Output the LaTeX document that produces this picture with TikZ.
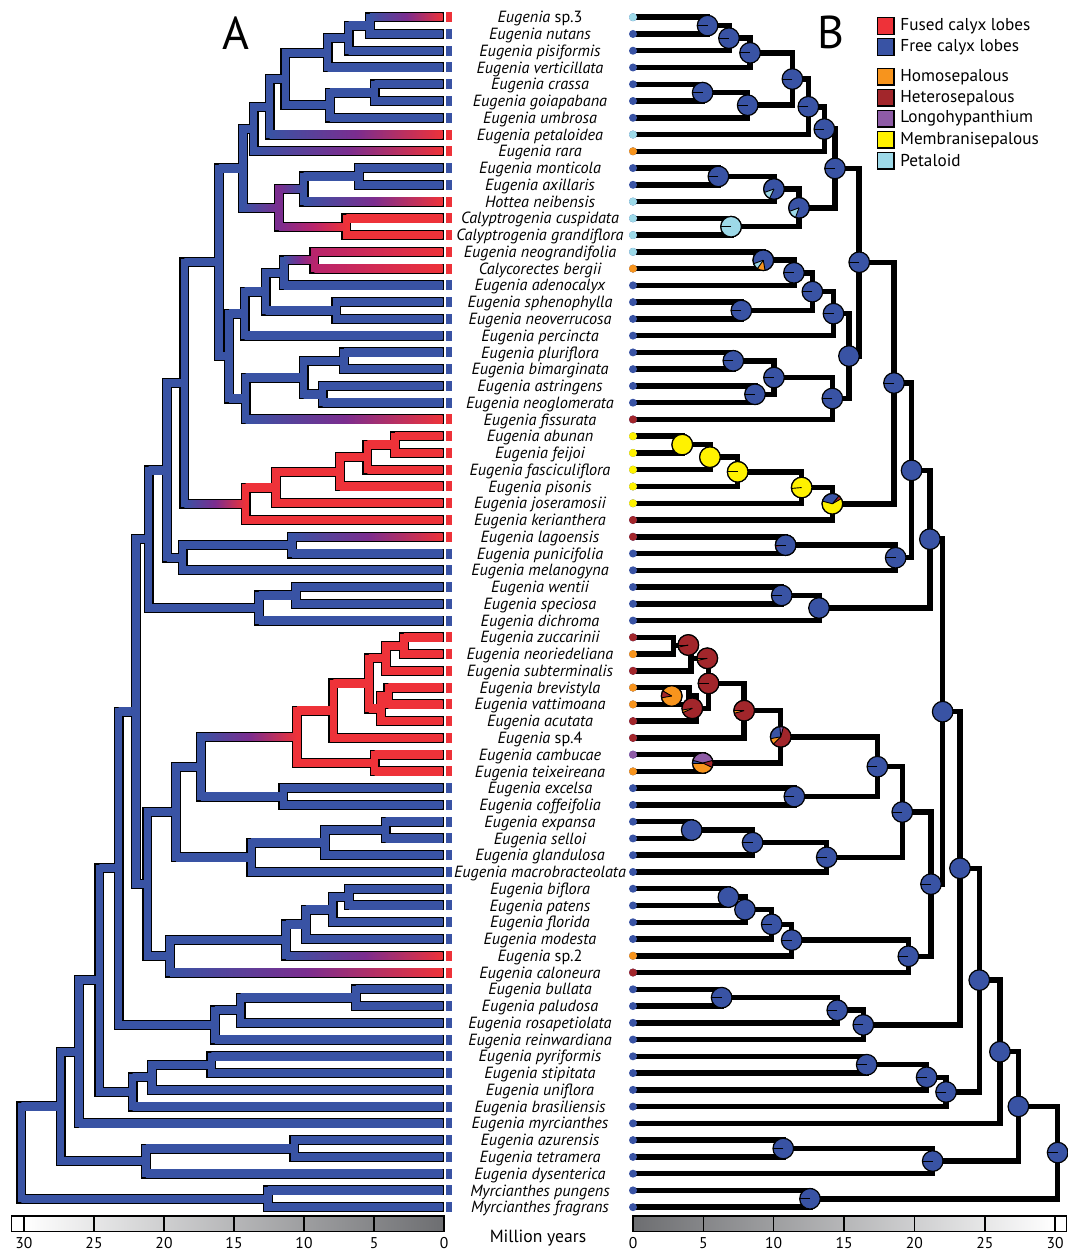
\documentclass[tikz,border=0pt]{standalone}
\usepackage{fontspec}
\setmainfont{PT Sans}
\usetikzlibrary{calc}
\definecolor{cb}{HTML}{3953A4}
\definecolor{cr}{HTML}{EE3239}
\definecolor{cpu}{HTML}{7B2D8F}
\definecolor{cm}{HTML}{B8246C}
\definecolor{co}{HTML}{F7941D}
\definecolor{cdr}{HTML}{A2262B}
\definecolor{cpl}{HTML}{8E5BA6}
\definecolor{cy}{HTML}{FFF200}
\definecolor{cpt}{HTML}{9DD9E8}
\definecolor{gax}{HTML}{6D6E71}
\newcommand\setY[2]{\expandafter\xdef\csname tzY:#1\endcsname{#2}}
\newcommand\getY[1]{\csname tzY:#1\endcsname}
\newcommand\setC[2]{\expandafter\xdef\csname tzC:#1\endcsname{#2}}
\newcommand\getC[1]{\csname tzC:#1\endcsname}
\newcommand\setL[2]{\expandafter\xdef\csname tzL:#1\endcsname{#2}}
\newcommand\getL[1]{\csname tzL:#1\endcsname}
\newcommand\mkmid[3]{\expandafter\xdef\csname tzM:#1#2\endcsname{#3}}
\mkmid{cb}{cr}{cpu}
\mkmid{cb}{cm}{cpu}
\mkmid{cm}{cr}{cm!50!cr}
\mkmid{cpu}{cr}{cm}
\mkmid{cpu}{cb}{cpu!50!cb}
\mkmid{cb}{cpu}{cpu!50!cb}
\def\pR{5.15pt}
\newcommand\hseg[2]{%
  \edef\pc{\getC{#1}}\edef\cc{\getC{#2}}%
  \ifcsname tzM:\pc\cc\endcsname\edef\mc{\csname tzM:\pc\cc\endcsname}\else\edef\mc{\pc}\fi
  \shade[left color=\pc,right color=\cc,middle color=\mc] ($(A#2 -| A#1)+(0,-3.7)$) rectangle ($(AE#2)+(0,3.7)$);}
\newcommand\pbase[2]{\fill[#2] (#1) circle[radius=\pR];}
\newcommand\pslice[4]{\fill[#4] (#1) -- ++(#2:\pR) arc[start angle=#2,end angle=#3,radius=\pR] -- cycle;}
\newcommand\pline[2]{\draw[pln] (#1) -- ++(#2:\pR);}
\newcommand\pring[1]{\draw[pout] (#1) circle[radius=\pR];}
\def\treedata{a/1/2/5.3,b/a/3/6.82,c/b/4/8.32,d/5/6/4.95,e/d/7/8.15,f/c/e/11.33,g/f/8/12.46,h/g/9/13.6,i/10/11/6.07,j/i/12/10.02,k/13/14/6.97,l/j/k/11.8,m/h/l/14.36,n/15/16/9.26,o/n/17/11.44,q/18/19/7.7,p/o/q/12.75,r/p/20/14.25,v/21/22/7.13,w/23/24/8.67,u/v/w/10.02,s/u/25/14.17,t/r/s/15.35,x/m/t/16.08,y1/26/27/3.5,y2/y1/28/5.47,y3/y2/29/7.44,y4/y3/30/11.99,y5/y4/31/14.17,z1/x/y5/18.55,z6/32/33/10.85,z2/z6/34/18.67,z3/z1/z2/19.8,z7/35/36/10.57,z4/z7/37/13.22,z5/z3/z4/21.1,r1/38/39/2.87,r2/r1/40/4.13,r3/41/42/3.98,r4/r3/43/4.49,r5/r2/r4/5.37,r6/r5/44/7.9,r7/45/46/4.96,r8/r6/r7/10.5,b1/47/48/11.47,b2/r8/b1/17.37,b3/49/50/4.17,b4/b3/51/8.5,b5/b4/52/13.77,b6/b2/b5/19.14,b7/53/54/6.78,b8/b7/55/7.96,b9/b8/56/9.86,b10/b9/57/11.28,b11/b10/58/19.57,b12/b6/b11/21.18,c1/z5/b12/22.01,d1/59/60/6.3,d2/d1/61/14.52,d3/d2/62/16.37,e1/63/64/16.61,e2/e1/65/20.87,e3/e2/66/22.25,c2/c1/d3/23.24,c3/c2/e3/24.61,c4/c3/67/26.08,f1/68/69/10.68,f2/f1/70/21.3,c5/c4/f2/27.39,g1/71/72/12.58,rt/c5/g1/30.18}
\def\labs{1/{Eugenia \textup{sp.3}},2/Eugenia nutans,3/Eugenia pisiformis,4/Eugenia verticillata,5/Eugenia crassa,6/Eugenia goiapabana,7/Eugenia umbrosa,8/Eugenia petaloidea,9/Eugenia rara,10/Eugenia monticola,11/Eugenia axillaris,12/Hottea neibensis,13/Calyptrogenia cuspidata,14/Calyptrogenia grandiflora,15/Eugenia neograndifolia,16/Calycorectes bergii,17/Eugenia adenocalyx,18/Eugenia sphenophylla,19/Eugenia neoverrucosa,20/Eugenia percincta,21/Eugenia pluriflora,22/Eugenia bimarginata,23/Eugenia astringens,24/Eugenia neoglomerata,25/Eugenia fissurata,26/Eugenia abunan,27/Eugenia feijoi,28/Eugenia fasciculiflora,29/Eugenia pisonis,30/Eugenia joseramosii,31/Eugenia kerianthera,32/Eugenia lagoensis,33/Eugenia punicifolia,34/Eugenia melanogyna,35/Eugenia wentii,36/Eugenia speciosa,37/Eugenia dichroma,38/Eugenia zuccarinii,39/Eugenia neoriedeliana,40/Eugenia subterminalis,41/Eugenia brevistyla,42/Eugenia vattimoana,43/Eugenia acutata,44/{Eugenia \textup{sp.4}},45/Eugenia cambucae,46/Eugenia teixeireana,47/Eugenia excelsa,48/Eugenia coffeifolia,49/Eugenia expansa,50/Eugenia selloi,51/Eugenia glandulosa,52/Eugenia macrobracteolata,53/Eugenia biflora,54/Eugenia patens,55/Eugenia florida,56/Eugenia modesta,57/{Eugenia \textup{sp.2}},58/Eugenia caloneura,59/Eugenia bullata,60/Eugenia paludosa,61/Eugenia rosapetiolata,62/Eugenia reinwardiana,63/Eugenia pyriformis,64/Eugenia stipitata,65/Eugenia uniflora,66/Eugenia brasiliensis,67/Eugenia myrcianthes,68/Eugenia azurensis,69/Eugenia tetramera,70/Eugenia dysenterica,71/Myrcianthes pungens,72/Myrcianthes fragrans}
\begin{document}
\begin{tikzpicture}[x=0.5pt,y=-0.5pt,
 ablk/.style={line width=5pt,line join=miter,black},
 acol/.style={line width=3.7pt,line cap=rect},
 bblk/.style={line width=2.75pt,line join=miter,black},
 pln/.style={line width=0.45pt,black},
 pout/.style={line width=0.6pt,black},
 lab/.style={font=\fontsize{8.1}{9}\selectfont\itshape,anchor=base,inner sep=0pt},
 leg/.style={font=\fontsize{8.6}{10}\selectfont,anchor=west,inner sep=0pt},
 legbox/.style={line width=0.6pt,draw=black},
 axl/.style={font=\fontsize{7.8}{9}\selectfont,anchor=center,inner sep=0pt},
 axln/.style={line width=0.7pt,black}]
\useasboundingbox (0,0) rectangle (1068,1250);
% ---------- data
\foreach \i in {1,...,72}{\setY{\i}{\fpeval{17.2+(\i-1)*16.76}}\setC{\i}{cb}}
\foreach \i in {1,8,9,12,13,14,15,16,25,26,27,28,29,30,31,32,38,39,40,41,42,43,44,45,46,57,58}{\setC{\i}{cr}}
\foreach \nn/\ka/\kb/\ag in \treedata{\setY{\nn}{\fpeval{(\getY{\ka}+\getY{\kb})/2}}\setC{\nn}{cb}\setL{\nn}{1}}
\foreach \nn in {k,y1,y2,y3,y4,y5,r1,r2,r3,r4,r5,r6,r7,r8}{\setC{\nn}{cr}}
\setC{l}{cpu}\setC{n}{cm}
\foreach \nn in {t,y1,y2,z3,z4,z5,c1,c2,c3,c4,c5,b3,b7,b8}{\setL{\nn}{0}}
% ---------- coordinates
\foreach \i in {1,...,72}{\edef\yy{\getY{\i}}
  \coordinate (A\i) at (444,\yy);
  \coordinate (AE\i) at (442.7,\yy);
  \coordinate (B\i) at (633,\yy);}
\foreach \nn/\ka/\kb/\ag in \treedata{\edef\yy{\getY{\nn}}
  \coordinate (A\nn) at ({444-14*\ag},\yy);
  \coordinate (AE\nn) at (A\nn);
  \coordinate (B\nn) at ({633+14.07*\ag},\yy);
  \coordinate (BP\nn) at (B\nn);}
\coordinate (BPr1) at (688.3,645);
\coordinate (BPr2) at (707.3,658.3);
\coordinate (BPr3) at (671.7,696);
\coordinate (BPr4) at (692.3,708.3);
% ---------- tree A
\foreach \nn/\ka/\kb/\ag in \treedata{\draw[ablk] (A\ka) -| (A\nn) |- (A\kb);}
\foreach \nn/\ka/\kb/\ag in \treedata{\edef\pc{\getC{\nn}}\draw[acol,color=\pc] (A\ka -| A\nn) -- (A\kb -| A\nn);}
\foreach \nn/\ka/\kb/\ag in \treedata{\hseg{\nn}{\ka}\hseg{\nn}{\kb}}
\foreach \i in {1,...,72}{\edef\cc{\getC{\i}}\edef\yy{\getY{\i}}\fill[color=\cc] (446,{\yy-5}) rectangle (452,{\yy+5});}
% ---------- labels
\foreach \i/\lb in \labs{\edef\yy{\getY{\i}}\node[lab] (L\i) at (540,{\yy+5.6}) {\lb};}
% ---------- tree B
\foreach \nn/\ka/\kb/\ag in \treedata{\draw[bblk] (B\ka) -| (B\nn) |- (B\kb);}
\foreach \i in {1,...,72}{\fill[cb] (B\i) circle[radius=2pt];}
\foreach \i/\col in {1/cpt,8/cpt,9/co,12/cpt,13/cpt,14/cpt,15/cpt,16/co,25/cdr,26/cy,27/cy,28/cy,29/cy,30/cy,31/cdr,32/cdr,38/cdr,39/co,40/cdr,41/co,42/co,43/cdr,44/cdr,45/cpl,46/co,57/co,58/cdr}{\fill[color=\col] (B\i) circle[radius=2pt];}
\foreach \nn/\ka/\kb/\ag in \treedata{\pbase{BP\nn}{cb}\ifnum\getL{\nn}=1 \pline{BP\nn}{180}\fi\pring{BP\nn}}
% special pies
\pbase{BPk}{cpt}\pline{BPk}{180}\pring{BPk}
\pbase{BPj}{cb}\pslice{BPj}{200}{245}{cpt}\pline{BPj}{200}\pline{BPj}{245}\pring{BPj}
\pbase{BPl}{cb}\pslice{BPl}{200}{250}{cpt}\pline{BPl}{200}\pline{BPl}{250}\pring{BPl}
\pbase{BPn}{cb}\pslice{BPn}{200}{235}{cpt}\pslice{BPn}{235}{280}{co}\pline{BPn}{200}\pline{BPn}{235}\pline{BPn}{280}\pring{BPn}
\pbase{BPy1}{cy}\pring{BPy1}
\pbase{BPy2}{cy}\pring{BPy2}
\pbase{BPy3}{cy}\pline{BPy3}{180}\pring{BPy3}
\pbase{BPy4}{cy}\pline{BPy4}{185}\pring{BPy4}
\pbase{BPy5}{cy}\pslice{BPy5}{50}{165}{cb}\pslice{BPy5}{30}{50}{cdr}\pline{BPy5}{165}\pline{BPy5}{30}\pline{BPy5}{50}\pring{BPy5}
\pbase{BPz6}{cb}\pslice{BPz6}{180}{190}{cdr}\pline{BPz6}{180}\pring{BPz6}
\pbase{BPr1}{cdr}\pslice{BPr1}{180}{192}{co}\pline{BPr1}{180}\pline{BPr1}{192}\pring{BPr1}
\pbase{BPr2}{cdr}\pslice{BPr2}{180}{192}{co}\pline{BPr2}{180}\pline{BPr2}{192}\pring{BPr2}
\pbase{BPr3}{co}\pslice{BPr3}{150}{190}{cdr}\pline{BPr3}{150}\pline{BPr3}{190}\pring{BPr3}
\pbase{BPr4}{cdr}\pslice{BPr4}{190}{205}{co}\pline{BPr4}{190}\pline{BPr4}{205}\pring{BPr4}
\pbase{BPr5}{cdr}\pline{BPr5}{180}\pring{BPr5}
\pbase{BPr6}{cdr}\pslice{BPr6}{180}{195}{co}\pline{BPr6}{180}\pline{BPr6}{195}\pring{BPr6}
\pbase{BPr7}{co}\pslice{BPr7}{15}{165}{cpl}\pslice{BPr7}{165}{180}{cb}\pslice{BPr7}{-25}{15}{cdr}\pline{BPr7}{15}\pline{BPr7}{165}\pline{BPr7}{180}\pline{BPr7}{-25}\pring{BPr7}
\pbase{BPr8}{cdr}\pslice{BPr8}{75}{95}{cpl}\pslice{BPr8}{95}{190}{cb}\pslice{BPr8}{190}{225}{co}\pline{BPr8}{75}\pline{BPr8}{95}\pline{BPr8}{190}\pline{BPr8}{225}\pring{BPr8}
% ---------- legend
\foreach \yy/\col/\txt [count=\k] in {26/cr/Fused calyx lobes,47/cb/Free calyx lobes,76.7/co/Homosepalous,97.7/cdr/Heterosepalous,118.7/cpl/Longohypanthium,139.7/cy/Membranisepalous,160.7/cpt/Petaloid}{
  \draw[legbox,fill=\col] (877.5,{\yy-8.2}) rectangle (894,{\yy+8.2});
  \node[leg] (leg\k) at (900,\yy) {\txt};}
% ---------- axes
\shade[left color=white,right color=gax] (24,1216) rectangle (444,1231.7);
\draw[axln] (11.7,1216) rectangle (444,1231.7);
\foreach \xx in {24,94,164,234,304,374}{\draw[axln] (\xx,1216) -- (\xx,1231.7);}
\foreach \xx/\lb [count=\k] in {24/30,94/25,164/20,234/15,304/10,374/5,444/0}{\node[axl] (axa\k) at (\xx,1243) {\lb};}
\shade[left color=gax,right color=white] (633,1216) rectangle (1055,1231.7);
\draw[axln] (633,1216) rectangle (1066.7,1231.7);
\foreach \xx in {703.4,773.7,844,914.4,984.8,1055}{\draw[axln] (\xx,1216) -- (\xx,1231.7);}
\foreach \xx/\lb [count=\k] in {633/0,703.4/5,773.7/10,844/15,914.4/20,984.8/25,1055/30}{\node[axl] (axb\k) at (\xx,1243) {\lb};}
\node[font=\fontsize{8.8}{10}\selectfont,inner sep=0pt] (my) at (538,1238) {Million years};
\node[font=\fontsize{23}{26}\selectfont,inner sep=0pt] (pA) at (236,33) {A};
\node[font=\fontsize{23}{26}\selectfont,inner sep=0pt] (pB) at (831,32) {B};
\end{tikzpicture}
\end{document}
